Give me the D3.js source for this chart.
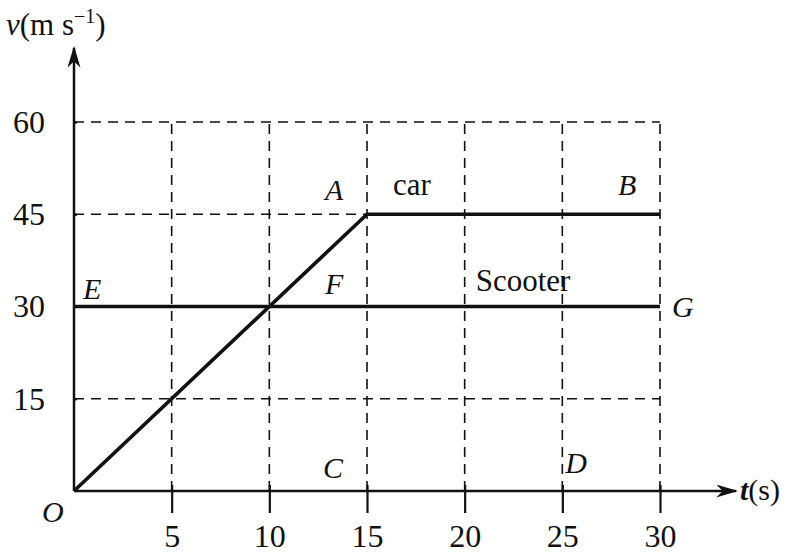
<!DOCTYPE html>
<html><head><meta charset="utf-8">
<script src="https://cdn.jsdelivr.net/npm/d3@7"></script>
<style>body{margin:0;background:#fff}svg{display:block}text{font-family:"Liberation Serif","DejaVu Serif",serif;fill:#111}</style>
</head><body>
<svg id="c" width="788" height="555"></svg>
<script>
const xTicks = [5, 10, 15, 20, 25, 30];
const yTicks = [15, 30, 45, 60];
const carT = [0, 15, 30];
const carV = [0, 45, 45];
const scooterT = [0, 30];
const scooterV = [30, 30];
const pointLabels = [
  {name: "A", t: 15, v: 45, dx: -42, dy: -14},
  {name: "B", t: 30, v: 45, dx: -42, dy: -19},
  {name: "E", t: 0, v: 30, dx: 9, dy: -8},
  {name: "F", t: 15, v: 30, dx: -42, dy: -13},
  {name: "G", t: 30, v: 30, dx: 12, dy: 10},
  {name: "C", t: 15, v: 0, dx: -44, dy: -13},
  {name: "D", t: 25, v: 0, dx: 3, dy: -18}
];

const svg = d3.select("#c");
const x = d3.scaleLinear().domain([0, 30]).range([74, 660]);
const y = d3.scaleLinear().domain([0, 60]).range([491, 122]);
const ink = "#111";

// dashed grid
const g = svg.append("g").attr("stroke", ink).attr("stroke-width", 1.6).attr("stroke-dasharray", "10,7").attr("fill", "none");
yTicks.filter(v => v !== 30).forEach(v => {
  g.append("line").attr("x1", x(0)).attr("x2", x(30)).attr("y1", y(v)).attr("y2", y(v));
});
xTicks.forEach(t => {
  g.append("line").attr("x1", x(t)).attr("x2", x(t)).attr("y1", y(0)).attr("y2", y(60));
});

// axes with ticks
const xAxis = d3.axisBottom(x).tickValues(xTicks).tickSize(22).tickPadding(11);
const yAxis = d3.axisLeft(y).tickValues(yTicks).tickSize(20).tickPadding(9);
const gx = svg.append("g").attr("transform", `translate(0,${y(0)})`).call(xAxis);
const gy = svg.append("g").attr("transform", `translate(${x(0)},0)`).call(yAxis);
[gx, gy].forEach(a => {
  a.select(".domain").remove();
  a.selectAll(".tick line").attr("stroke", ink).attr("stroke-width", 2.2);
  a.selectAll(".tick text").attr("font-size", 32).attr("font-family", "Liberation Serif").attr("fill", ink);
});
gy.selectAll(".tick line").attr("x2", 3);
gx.selectAll(".tick line").attr("y1", -6);

// axis lines with arrows
svg.append("defs").append("marker").attr("id", "arr").attr("viewBox", "0 0 10 10")
  .attr("refX", 9).attr("refY", 5).attr("markerWidth", 22).attr("markerHeight", 13)
  .attr("markerUnits", "userSpaceOnUse").attr("orient", "auto").attr("preserveAspectRatio", "none")
  .append("path").attr("d", "M0,0 L10,5 L0,10 L3,5 Z").attr("fill", ink);
svg.append("line").attr("x1", x(0)).attr("y1", y(0)).attr("x2", 736).attr("y2", y(0))
  .attr("stroke", ink).attr("stroke-width", 2.5).attr("marker-end", "url(#arr)");
svg.append("line").attr("x1", x(0)).attr("y1", y(0)).attr("x2", x(0)).attr("y2", 48)
  .attr("stroke", ink).attr("stroke-width", 2.5).attr("marker-end", "url(#arr)");

// data lines
const line = d3.line().x(d => x(d[0])).y(d => y(d[1]));
svg.append("path").datum(carT.map((t, i) => [t, carV[i]])).attr("d", line)
  .attr("fill", "none").attr("stroke", ink).attr("stroke-width", 3.6).attr("stroke-linejoin", "round");
svg.append("path").datum(scooterT.map((t, i) => [t, scooterV[i]])).attr("d", line)
  .attr("fill", "none").attr("stroke", ink).attr("stroke-width", 3.6);

// point labels
pointLabels.forEach(p => {
  svg.append("text").attr("x", x(p.t) + p.dx).attr("y", y(p.v) + p.dy)
    .attr("font-size", 30).attr("font-style", "italic").text(p.name);
});
svg.append("text").attr("x", 42).attr("y", 522).attr("font-size", 30).attr("font-style", "italic").text("O");
svg.append("text").attr("x", x(15) + 26).attr("y", y(45) - 19).attr("font-size", 31).text("car");
svg.append("text").attr("x", x(20) + 11).attr("y", y(30) - 16).attr("font-size", 31).text("Scooter");

// axis titles
const vt = svg.append("text").attr("x", 6).attr("y", 35).attr("font-size", 31);
vt.append("tspan").attr("font-style", "italic").text("v");
vt.append("tspan").text("(m s");
vt.append("tspan").attr("dy", -12).attr("font-size", 20).text("−1");
vt.append("tspan").attr("dy", 12).text(")");
const tt = svg.append("text").attr("x", 740).attr("y", 500).attr("font-size", 30);
tt.append("tspan").attr("font-style", "italic").attr("font-weight", "bold").text("t");
tt.append("tspan").text("(s)");
</script>
</body></html>
